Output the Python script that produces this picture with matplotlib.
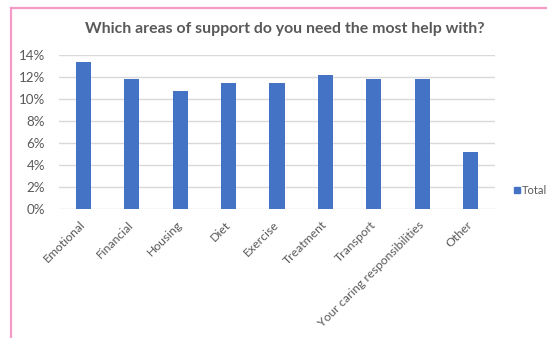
import matplotlib
matplotlib.use("Agg")
import matplotlib.pyplot as plt
from matplotlib.lines import Line2D
from matplotlib.ticker import PercentFormatter, MultipleLocator
import numpy as np

categories = ["Emotional", "Financial", "Housing", "Diet", "Exercise",
              "Treatment", "Transport", "Your caring responsibilities", "Other"]
share = [13.33, 11.85, 10.74, 11.48, 11.48, 12.22, 11.85, 11.85, 5.19]
series_name = "Total"
title = "Which areas of support do you need the most help with?"

BAR = "#4472c4"
TEXT = "#595959"
GRID = "#d9d9d9"
FRAME = "#f49ac6"
FONT = "Lato"

W, H, DPI = 547, 338, 100
fig = plt.figure(figsize=(W / DPI, H / DPI), dpi=DPI)
fig.patch.set_facecolor("white")

def fx(px):
    return px / W

def fy(py):
    return 1 - py / H

ax = fig.add_axes([fx(59), fy(209), fx(495) - fx(59), fy(55) - fy(209)])
x = np.arange(len(categories))
ax.bar(x, np.array(share) / 100, width=0.31, color=BAR, zorder=3, label=series_name)

ax.set_xlim(-0.5, len(categories) - 0.5)
ax.set_ylim(0, 0.14)
ax.yaxis.set_major_locator(MultipleLocator(0.02))
ax.yaxis.set_major_formatter(PercentFormatter(1.0, decimals=0))
ax.grid(axis="y", color=GRID, linewidth=1.0, zorder=0)
for s in ax.spines.values():
    s.set_visible(False)
ax.tick_params(axis="both", length=0, colors=TEXT)
ax.tick_params(axis="y", pad=10, labelsize=9.6)
for lab in ax.get_yticklabels():
    lab.set_fontfamily(FONT)

ax.set_xticks(x)
ax.set_xticklabels(categories, rotation=45, ha="right", va="center",
                   rotation_mode="anchor", fontsize=8.8, fontfamily=FONT, color=TEXT)
ax.tick_params(axis="x", pad=10)

fig.text(fx(285), fy(29), title, ha="center", va="center", fontsize=11.4,
         fontweight="bold", color=TEXT, fontfamily=FONT)

# legend entry on the right
fig.add_artist(Line2D([fx(517)], [fy(190)], marker="s", markersize=4.5,
                      color=BAR, linestyle="none"))
fig.text(fx(522), fy(190), series_name, ha="left", va="center", fontsize=8,
         color=TEXT, fontfamily=FONT)

# pink chart frame
fig.add_artist(Line2D([fx(11), fx(11)], [fy(8), 0], color=FRAME, linewidth=1.6))
fig.add_artist(Line2D([fx(11), 1], [fy(8), fy(8)], color=FRAME, linewidth=1.6))

fig.savefig("out.png", dpi=DPI)
